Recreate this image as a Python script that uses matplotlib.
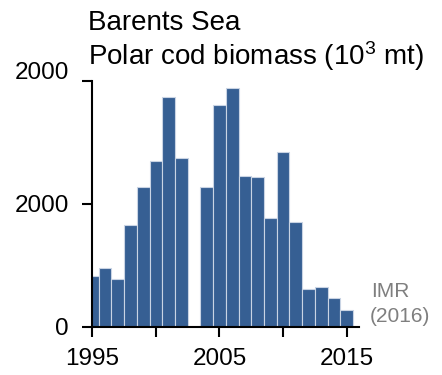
import matplotlib
matplotlib.use("Agg")
import matplotlib.pyplot as plt

# Data (2003 has no survey value)
years = [1995, 1996, 1997, 1998, 1999, 2000, 2001, 2002,
         2004, 2005, 2006, 2007, 2008, 2009, 2010, 2011, 2012, 2013, 2014, 2015]
biomass = [830, 950, 780, 1660, 2270, 2690, 3740, 2740,
           2270, 3610, 3885, 2450, 2430, 1770, 2850, 1710, 615, 650, 460, 270]
ytick_vals = [0, 2000, 4000]
ytick_labels = ["0", "2000", ""]
top_label = "2000"
xtick_major = [1995, 2005, 2015]
xtick_minor = [2000, 2010]

plt.rcParams['font.family'] = ['Liberation Sans', 'DejaVu Sans']
plt.rcParams['mathtext.fontset'] = 'custom'
plt.rcParams['mathtext.rm'] = 'Liberation Sans'
plt.rcParams['mathtext.it'] = 'Liberation Sans:italic'
plt.rcParams['mathtext.bf'] = 'Liberation Sans:bold'

fig = plt.figure(figsize=(4.42, 3.75), dpi=100)
ax = fig.add_axes([92.3 / 442, 48.3 / 375, 267 / 442, 245.7 / 375])

ax.bar(years, biomass, width=1.0, color='#365F93', edgecolor='#c9d4e4', linewidth=0.8)

ax.set_xlim(1995, 2016)
ax.set_ylim(0, 4000)

for s in ['top', 'right']:
    ax.spines[s].set_visible(False)
for s in ['left', 'bottom']:
    ax.spines[s].set_linewidth(1.5)
    ax.spines[s].set_color('black')

ax.set_xticks(xtick_major)
ax.set_xticklabels([str(y) for y in xtick_major])
ax.set_xticks(xtick_minor, minor=True)
ax.set_yticks(ytick_vals)
ax.set_yticklabels(ytick_labels)

ax.tick_params(axis='both', which='both', direction='out', length=7, width=1.5,
               colors='black', labelsize=17.5)
ax.tick_params(axis='x', which='both', pad=8.5)
ax.tick_params(axis='y', pad=10)

ax.annotate(top_label, xy=(0, 4000), xycoords=('axes fraction', 'data'),
            xytext=(-17, 6), textcoords='offset points', ha='right', va='center',
            fontsize=17.5, color='black', annotation_clip=False)

fig.text(88 / 442, 1 - 30 / 375, 'Barents Sea', fontsize=20, ha='left', va='baseline')
fig.text(88 / 442, 1 - 65 / 375, r'Polar cod biomass (10$^3$ mt)', fontsize=20,
         ha='left', va='baseline')

fig.text(371 / 442, 1 - 297 / 375, 'IMR', fontsize=15, color='#7f7f7f',
         ha='left', va='baseline')
fig.text(370 / 442, 1 - 322 / 375, '(2016)', fontsize=15, color='#7f7f7f',
         ha='left', va='baseline')

fig.savefig('out.png', dpi=100)
